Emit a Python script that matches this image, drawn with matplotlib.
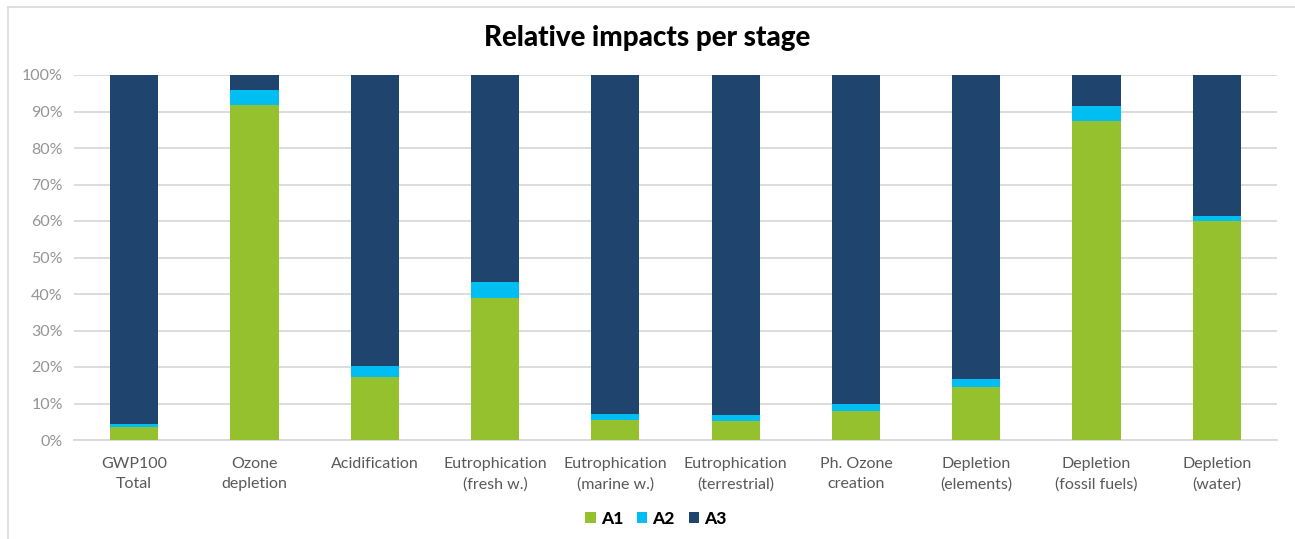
import matplotlib
matplotlib.use("Agg")
import matplotlib.pyplot as plt
from matplotlib.lines import Line2D
from matplotlib.patches import Patch
import numpy as np

categories = ["GWP100\nTotal", "Ozone\ndepletion", "Acidification",
              "Eutrophication\n(fresh w.)", "Eutrophication\n(marine w.)",
              "Eutrophication\n(terrestrial)", "Ph. Ozone\ncreation",
              "Depletion\n(elements)", "Depletion\n(fossil fuels)", "Depletion\n(water)"]
a1 = [3.6, 91.8, 17.3, 39.0, 5.5, 5.3, 8.0, 14.6, 87.5, 60.1]
a2 = [0.7, 4.1, 3.0, 4.2, 1.6, 1.5, 2.0, 2.1, 4.1, 1.3]
a3 = [100 - x - y for x, y in zip(a1, a2)]
series_names = ["A1", "A2", "A3"]
colors = ["#96C12F", "#00BEF2", "#1F446E"]
yticks = [0, 10, 20, 30, 40, 50, 60, 70, 80, 90, 100]
ytick_labels = [f"{v}%" for v in yticks]
title = "Relative impacts per stage"

W, H = 1295, 539
fig = plt.figure(figsize=(W / 100, H / 100), dpi=100)
ax = fig.add_axes([74 / W, 1 - 440 / H, (1277 - 74) / W, (440 - 75) / H])

x = np.arange(len(categories))
bottom = np.zeros(len(categories))
for vals, c, n in zip([a1, a2, a3], colors, series_names):
    ax.bar(x, vals, bottom=bottom, width=0.4, color=c, label=n, zorder=3)
    bottom += np.array(vals)

ax.set_xlim(-0.5, len(categories) - 0.5)
ax.set_ylim(0, 100)
ax.set_yticks(yticks)
ax.set_yticklabels(ytick_labels, fontfamily="Lato", fontsize=11.5, color="#959595")
ax.set_xticks(x)
ax.set_xticklabels(categories, fontfamily="Lato", fontsize=11.5,
                   color="#595959", linespacing=1.6)
ax.tick_params(axis="both", length=0)
ax.tick_params(axis="x", pad=12)
ax.tick_params(axis="y", pad=8)
ax.grid(axis="y", color="#D9D9D9", linewidth=1.3, zorder=0)
for s in ["top", "right", "left"]:
    ax.spines[s].set_visible(False)
ax.spines["bottom"].set_color("#D9D9D9")
ax.spines["bottom"].set_linewidth(1.3)

fig.text(0.5, 1 - 38 / H, title, ha="center", va="center", fontfamily="Lato",
         fontweight="black", fontsize=20, color="#000000")

handles = [Patch(facecolor=c, edgecolor="none") for c in colors]
leg = fig.legend(handles, series_names, loc="center", bbox_to_anchor=(656 / W, 1 - 519 / H),
                 ncol=3, frameon=False, handlelength=0.6, handleheight=0.6,
                 handletextpad=0.3, columnspacing=0.8,
                 prop={"family": "Lato", "weight": "black", "size": 12.5})

# chart border
fig.add_artist(Line2D([8 / W, 8 / W], [0, 1 - 7 / H], color="#D9D9D9", lw=1.2))
fig.add_artist(Line2D([8 / W, 1], [1 - 7 / H, 1 - 7 / H], color="#D9D9D9", lw=1.2))

fig.savefig("out.png", dpi=100, facecolor="white")
